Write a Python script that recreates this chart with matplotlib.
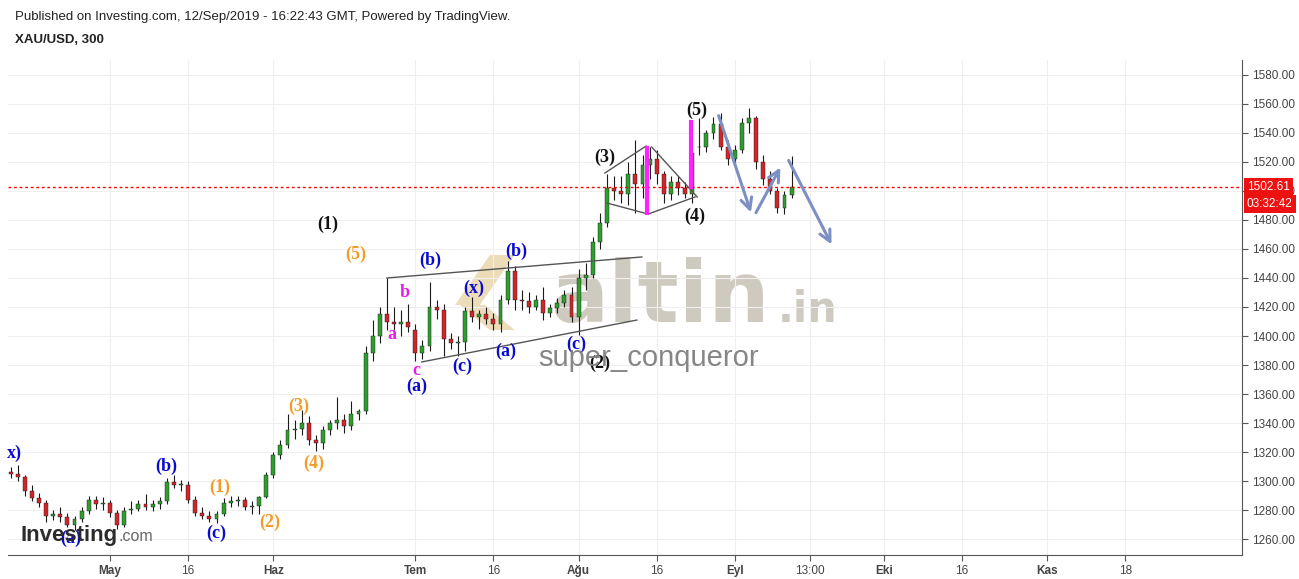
import numpy as np
import pandas as pd
import matplotlib
matplotlib.use("Agg")
import matplotlib.pyplot as plt
from matplotlib.patches import Polygon
from matplotlib.transforms import blended_transform_factory

# XAU/USD daily approximation (Apr 11 - Sep 12 2019)
dates = pd.bdate_range("2019-04-11", "2019-09-12")
opens = [1306, 1305, 1303, 1293, 1288, 1285, 1276, 1277, 1275, 1270, 1274, 1279, 1287, 1284,
         1285, 1278, 1270, 1280, 1281, 1284, 1282, 1284, 1286, 1299, 1297, 1297, 1287, 1278,
         1276, 1274, 1277, 1285, 1286, 1287, 1282, 1283, 1289, 1304, 1318, 1325, 1335, 1336,
         1340, 1328, 1326, 1335, 1340, 1342, 1338, 1346, 1348, 1388, 1400, 1415, 1410, 1408,
         1410, 1404, 1388, 1393, 1420, 1418, 1398, 1395, 1396, 1417, 1413, 1415, 1412, 1408,
         1425, 1445, 1425, 1424, 1420, 1425, 1416, 1419, 1423, 1428, 1413, 1440, 1442, 1465,
         1478, 1502, 1500, 1498, 1512, 1505, 1518, 1522, 1512, 1498, 1506, 1502, 1498, 1530,
         1530, 1540, 1546, 1530, 1522, 1528, 1547, 1550, 1520, 1508, 1500, 1488, 1497]
highs = [1310, 1311, 1304, 1297, 1292, 1287, 1280, 1282, 1278, 1276, 1282, 1290, 1290, 1289,
         1287, 1280, 1282, 1286, 1287, 1291, 1287, 1289, 1302, 1304, 1301, 1300, 1290, 1282,
         1279, 1279, 1288, 1290, 1290, 1289, 1286, 1290, 1306, 1320, 1328, 1346, 1342, 1349,
         1345, 1332, 1338, 1342, 1358, 1346, 1355, 1350, 1393, 1411, 1420, 1440, 1420, 1418,
         1422, 1408, 1397, 1437, 1425, 1422, 1402, 1400, 1420, 1427, 1418, 1420, 1416, 1428,
         1452, 1448, 1432, 1430, 1428, 1434, 1422, 1426, 1432, 1434, 1446, 1450, 1468, 1485,
         1512, 1510, 1510, 1520, 1535, 1525, 1530, 1528, 1514, 1510, 1510, 1506, 1527, 1550,
         1542, 1551, 1554, 1535, 1532, 1550, 1557, 1552, 1525, 1514, 1502, 1500, 1524]
lows = [1302, 1300, 1290, 1286, 1282, 1272, 1273, 1272, 1268, 1266, 1272, 1277, 1281, 1280,
        1275, 1267, 1268, 1277, 1279, 1280, 1279, 1281, 1284, 1295, 1293, 1285, 1276, 1274,
        1272, 1271, 1276, 1282, 1283, 1280, 1277, 1277, 1288, 1302, 1315, 1323, 1329, 1332,
        1325, 1321, 1322, 1332, 1336, 1333, 1335, 1342, 1346, 1383, 1395, 1404, 1404, 1400,
        1403, 1383, 1384, 1390, 1412, 1386, 1391, 1386, 1390, 1410, 1405, 1408, 1404, 1403,
        1422, 1418, 1418, 1416, 1418, 1411, 1413, 1416, 1420, 1410, 1401, 1432, 1440, 1460,
        1475, 1494, 1492, 1490, 1485, 1495, 1508, 1505, 1492, 1494, 1497, 1495, 1492, 1525,
        1527, 1536, 1528, 1518, 1518, 1526, 1540, 1515, 1504, 1498, 1485, 1484, 1495]
closes = [1305, 1303, 1293, 1288, 1285, 1276, 1277, 1275, 1270, 1274, 1279, 1287, 1284, 1285,
          1278, 1270, 1279, 1281, 1284, 1282, 1284, 1286, 1299, 1297, 1297, 1287, 1278, 1276,
          1274, 1277, 1285, 1286, 1287, 1282, 1283, 1289, 1304, 1318, 1325, 1335, 1336, 1340,
          1328, 1326, 1335, 1340, 1342, 1338, 1346, 1348, 1388, 1400, 1415, 1410, 1408, 1410,
          1406, 1388, 1393, 1420, 1418, 1398, 1395, 1396, 1417, 1413, 1415, 1412, 1408, 1425,
          1445, 1425, 1424, 1420, 1425, 1416, 1419, 1423, 1428, 1413, 1440, 1442, 1465, 1478,
          1502, 1500, 1498, 1512, 1505, 1518, 1522, 1512, 1498, 1506, 1502, 1498, 1526, 1530,
          1540, 1546, 1530, 1522, 1528, 1547, 1550, 1520, 1508, 1500, 1488, 1497, 1502.61]
last_price = 1502.61

tick_dates = ["2019-05-01", "2019-05-16", "2019-06-03", "2019-07-01", "2019-07-16",
              "2019-08-01", "2019-08-16", "2019-09-02", "2019-09-16", "2019-10-01",
              "2019-10-16", "2019-11-01", "2019-11-18"]
tick_labels = ["May", "16", "Haz", "Tem", "16", "Ağu", "16", "Eyl", "13:00", "Eki", "16", "Kas", "18"]
tick_bold = [True, False, True, True, False, True, False, True, False, True, False, True, False]

# x = trading-day index counted from May 1 (weekends skipped, like TradingView)
x = np.busday_count("2019-05-01", dates.values.astype("datetime64[D]"))
xt = np.busday_count("2019-05-01", np.array(tick_dates, dtype="datetime64[D]")).astype(float)
xt[8] += 13 / 24.0

o, h, l, c = map(np.array, (opens, highs, lows, closes))
up = c >= o

W, H = 1299, 579
fig = plt.figure(figsize=(W / 100, H / 100), dpi=100)
ax = fig.add_axes([8 / W, 24 / H, 1234 / W, 495 / H])

ax.set_xlim(-14.37, 159.44)
ax.set_ylim(1248.97, 1590.34)

# watermark (behind candles)
ax.add_patch(Polygon([(53.5, 1455.9), (57.0, 1455.9), (52.1, 1421.4), (48.6, 1421.4)],
                     closed=True, fc="#ead6ad", ec="none", alpha=0.85, zorder=0))
ax.add_patch(Polygon([(49.3, 1421.4), (52.8, 1421.4), (57.0, 1404.1), (53.5, 1404.1)],
                     closed=True, fc="#ead6ad", ec="none", alpha=0.85, zorder=0))
ax.text(62.0, 1409.7, "altin", fontsize=62, fontweight="bold", color="#cfcabf",
        family="DejaVu Sans", va="baseline", ha="left", zorder=0)
ax.text(94.1, 1409.7, ".in", fontsize=30, fontweight="bold", color="#cfcabf",
        family="DejaVu Sans", va="baseline", ha="left", zorder=0)

# candles
ax.vlines(x, l, h, color="#1a1a1a", lw=0.8, zorder=2)
body = np.where(np.abs(c - o) < 0.6, 0.6, c - o)
ax.bar(x, body, bottom=o, width=0.55, color=np.where(up, "#2e9e2e", "#d0262a"),
       edgecolor="#1a1a1a", linewidth=0.3, zorder=3)

# last price line
ax.axhline(last_price, color="red", lw=1, ls=(0, (2, 2)), zorder=4)

# wedge and diamond drawings
line_kw = dict(color="#555555", lw=1, zorder=4)
ax.plot([39.0, 74.9], [1440.0, 1454.5], **line_kw)
ax.plot([43.9, 74.2], [1382.1, 1411.0], **line_kw)
ax.plot([69.7, 75.5], [1512.4, 1531.0], **line_kw)
ax.plot([76.3, 82.7], [1530.3, 1495.9], **line_kw)
ax.plot([70.0, 75.8, 82.4], [1491.7, 1484.1, 1495.9], **line_kw)
ax.plot([75.6, 75.6], [1484.8, 1529.7], color="#ff22ff", lw=3, zorder=5)
ax.plot([81.8, 81.8], [1502.8, 1547.6], color="#ff22ff", lw=3, zorder=5)

# projection arrows
arrow_kw = dict(arrowstyle="->", color="#7d90c4", lw=2.2, mutation_scale=20)
for start, end in [((85.6, 1553.8), (90.4, 1483.4)),
                   ((90.8, 1483.4), (94.6, 1517.9)),
                   ((95.4, 1522.8), (101.8, 1461.4))]:
    ax.annotate("", xy=end, xytext=start, arrowprops=arrow_kw, zorder=6)

# wave labels
blue, orange, black, pink = "#0a0ad0", "#f39c2a", "#111111", "#e81ee8"
labels = [
    ("x)", -13.5, 1319.3, blue), ("(a)", -5.6, 1260.7, blue), ("(b)", 7.9, 1310.3, blue),
    ("(c)", 14.9, 1264.1, blue), ("(1)", 15.4, 1295.9, orange), ("(2)", 22.5, 1271.7, orange),
    ("(3)", 26.6, 1351.7, orange), ("(4)", 28.7, 1312.4, orange), ("(5)", 34.6, 1456.6, orange),
    ("(1)", 30.7, 1477.2, black), ("a", 39.7, 1400.7, pink), ("b", 41.5, 1430.3, pink),
    ("c", 43.2, 1375.9, pink), ("(a)", 43.2, 1365.5, blue), ("(b)", 45.1, 1452.4, blue),
    ("(x)", 51.3, 1433.1, blue), ("(c)", 49.6, 1379.3, blue), ("(a)", 55.8, 1389.7, blue),
    ("(b)", 57.2, 1458.6, blue), ("(c)", 65.6, 1394.5, blue), ("(2)", 69.0, 1381.4, black),
    ("(3)", 69.7, 1523.4, black), ("(4)", 82.3, 1482.8, black), ("(5)", 82.7, 1555.9, black),
]
for txt, lx, ly, col in labels:
    ax.text(lx, ly, txt, color=col, fontsize=13, fontweight="bold",
            family="Liberation Serif", ha="center", va="center", zorder=7)

ax.text(75.8, 1384.8, "super_conqueror", fontsize=21, color="#808080", alpha=0.95,
        family="Liberation Sans", ha="center", va="center", zorder=8)

# axes styling
for side in ("left", "top"):
    ax.spines[side].set_visible(False)
for side in ("right", "bottom"):
    ax.spines[side].set_color("#555555")
ax.yaxis.tick_right()
ax.set_yticks(np.arange(1260, 1581, 20))
ax.yaxis.set_major_formatter(matplotlib.ticker.FormatStrFormatter("%.2f"))
ax.set_xticks(xt)
ax.set_xticklabels(tick_labels)
for lab, b in zip(ax.get_xticklabels(), tick_bold):
    lab.set_fontweight("bold" if b else "normal")
ax.tick_params(axis="both", colors="#555555", labelcolor="#444444", labelsize=8.5,
               length=4, width=0.8)
for lab in ax.get_xticklabels() + ax.get_yticklabels():
    lab.set_family("Liberation Sans")
ax.grid(True, color="#efefef", lw=0.8, zorder=0)
ax.set_axisbelow(True)

# price / countdown tags on the right scale
tr = blended_transform_factory(ax.transAxes, ax.transData)
ax.text(1.004, last_price, "1502.61", transform=tr, fontsize=8.5, color="white",
        family="Liberation Sans", ha="left", va="center", zorder=9, clip_on=False,
        bbox=dict(boxstyle="square,pad=0.25", fc="#ee1111", ec="none"))
ax.text(1.004, 1491.0, "03:32:42", transform=tr, fontsize=8.5, color="white",
        family="Liberation Sans", ha="left", va="center", zorder=9, clip_on=False,
        bbox=dict(boxstyle="square,pad=0.25", fc="#ee1111", ec="none"))

# header
fig.text(15 / W, 1 - 17 / H, "Published on Investing.com, 12/Sep/2019 - 16:22:43 GMT, Powered by TradingView.",
         fontsize=9.5, color="#222222", family="Liberation Sans", va="center")
fig.text(15 / W, 1 - 40 / H, "XAU/USD, 300", fontsize=9.5, fontweight="bold", color="#222222",
         family="Liberation Sans", va="center")

# Investing.com logo
fig.text(20 / W, 1 - 541 / H, "Investing", fontsize=16, fontweight="bold", color="#2b2b2b",
         family="Liberation Sans", va="baseline", zorder=10)
fig.text(118 / W, 1 - 541 / H, ".com", fontsize=11.5, color="#666666",
         family="Liberation Sans", va="baseline", zorder=10)

fig.savefig("out.png", dpi=100)
